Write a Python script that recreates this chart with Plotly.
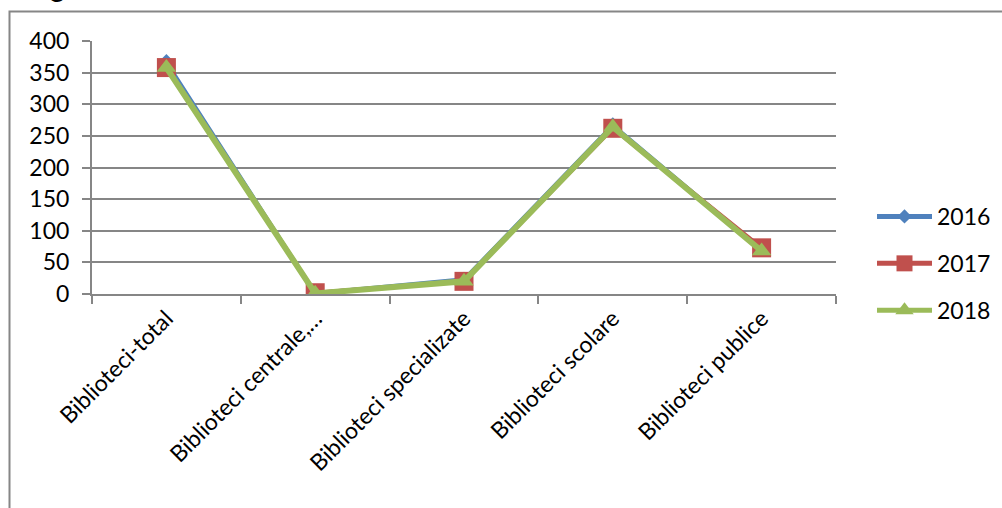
import plotly.graph_objects as go

categories = ["Biblioteci-total", "Biblioteci centrale,…", "Biblioteci specializate",
              "Biblioteci scolare", "Biblioteci publice"]
years = ["2016", "2017", "2018"]
v2016 = [368, 2, 24, 268, 70]
v2017 = [358, 2, 20, 262, 73]
v2018 = [358, 1, 20, 264, 68]
y_ticks = [0, 50, 100, 150, 200, 250, 300, 350, 400]

W, H = 1002, 508
L, R, T, B = 92, 836, 41, 294
pw, ph = R - L, B - T

def px_x(p):
    return (p - L) / pw

def px_y(p):
    return (B - p) / ph

FONT = "Lato"
FS = 23
fig = go.Figure()
styles = [
    (v2016, "#4F81BD", 3, "diamond", 11),
    (v2017, "#C0504D", 4, "square", 19),
    (v2018, "#9BBB59", 6, "triangle-up", 17),
]
for name, (vals, col, lw, sym, ms) in zip(years, styles):
    fig.add_trace(go.Scatter(
        x=categories, y=vals, name=name, mode="lines+markers",
        line=dict(color=col, width=lw),
        marker=dict(symbol=sym, size=ms, color=col),
        legendgroup=name, showlegend=False,
    ))
# legend entries (no data drawn)
for name, (vals, col, lw, sym, ms) in zip(years, styles):
    fig.add_trace(go.Scatter(
        x=[None], y=[None], name=name, mode="lines+markers",
        line=dict(color=col, width=5),
        marker=dict(symbol=sym, size=ms, color=col),
        legendgroup=name, showlegend=True,
    ))

fig.update_layout(
    width=W, height=H,
    margin=dict(l=L, r=W - R, t=T, b=H - B, autoexpand=False),
    paper_bgcolor="white", plot_bgcolor="white",
    font=dict(family=FONT, size=FS, color="black"),
    showlegend=True,
    legend=dict(x=px_x(872), y=px_y(195), xanchor="left", yanchor="top",
                traceorder="grouped", tracegroupgap=14,
                font=dict(family=FONT, size=FS, color="black"),
                bgcolor="rgba(0,0,0,0)", itemwidth=55),
    xaxis=dict(type="category", range=[-0.5, 4.5], tickson="boundaries",
               ticks="outside", ticklen=8, tickcolor="#868686", tickwidth=2,
               showline=True, linecolor="#868686", linewidth=2,
               showgrid=False, tickangle=-45, tickfont=dict(size=FS)),
    yaxis=dict(range=[0, 400], tickvals=y_ticks, ticks="outside", ticklen=8,
               tickcolor="#868686", tickwidth=2,
               showline=True, linecolor="#868686", linewidth=2,
               showgrid=True, gridcolor="#868686", gridwidth=2,
               zeroline=False, tickfont=dict(size=FS), ticklabelstandoff=8),
    shapes=[dict(type="rect", xref="paper", yref="paper",
                 x0=px_x(9.5), x1=px_x(1015), y0=px_y(530), y1=px_y(11.5),
                 line=dict(color="#868686", width=2), fillcolor="rgba(0,0,0,0)",
                 layer="below")],
    annotations=[dict(text="g", xref="paper", yref="paper", x=px_x(48), y=px_y(5),
                      xanchor="left", yanchor="bottom", showarrow=False,
                      font=dict(family=FONT, size=28, color="black"))],
)
fig.write_html("out.html", config={"displayModeBar": False},
               post_script="document.body.style.margin='0';document.body.style.overflow='hidden';")
